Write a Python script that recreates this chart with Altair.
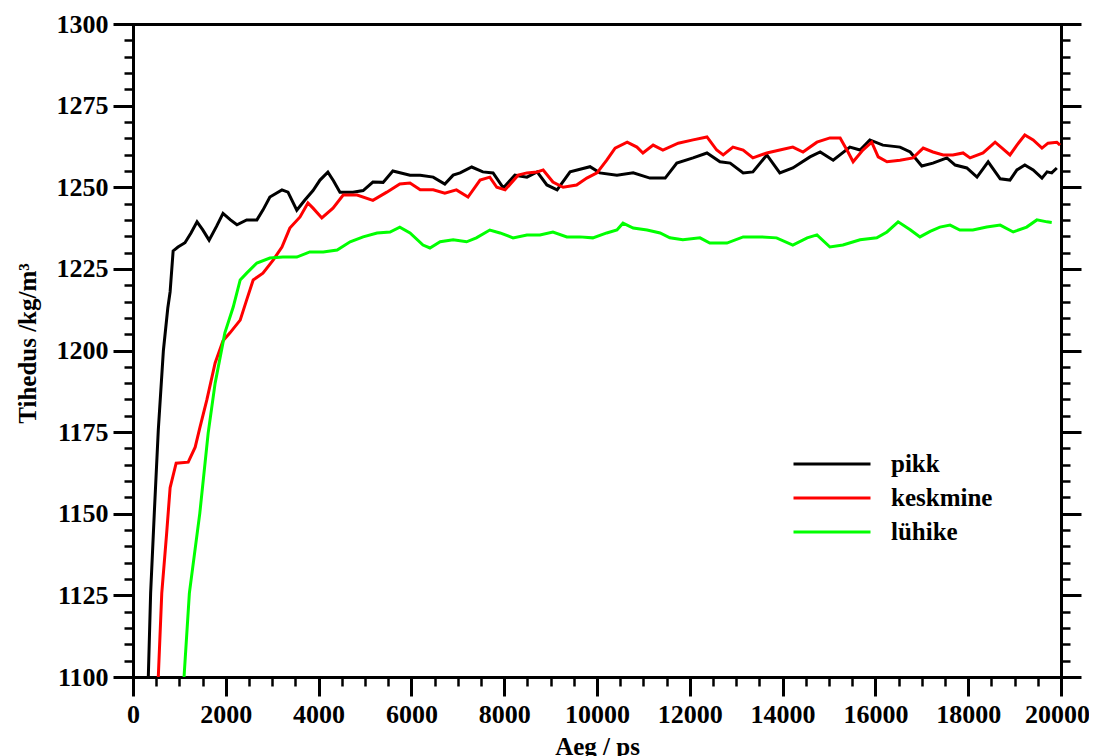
import altair as alt
import pandas as pd

# ---- data ----
pikk_x = [330, 380, 460, 545, 655, 750, 800, 865, 970, 1120, 1250, 1380, 1500, 1640, 1800, 1940, 2100, 2240, 2450, 2670,
          2800, 2950, 3210, 3340, 3530, 3700, 3880, 4030, 4200, 4320, 4460, 4740, 4960, 5170, 5390, 5600, 5970, 6190, 6470,
          6720, 6900, 7050, 7300, 7540, 7760, 7980, 8230, 8490, 8710, 8920, 9140, 9420, 9850, 10060, 10430, 10780, 11140,
          11470, 11720, 12070, 12370, 12650, 12870, 13150, 13360, 13660, 13940, 14220, 14590, 14810, 15090, 15450, 15670,
          15880, 16160, 16530, 16750, 17000, 17240, 17540, 17720, 17970, 18190, 18430, 18690, 18900, 19050, 19220, 19400,
          19590, 19700, 19800, 19910]
pikk_y = [1100, 1125.7, 1150.5, 1175.6, 1200, 1213, 1218, 1230.5, 1231.7, 1233, 1236, 1239.4, 1237, 1233.8, 1238, 1242,
          1240, 1238.5, 1240, 1240, 1243, 1247, 1249.2, 1248.5, 1243, 1246, 1249, 1252.2, 1254.6, 1252, 1248.5, 1248.5,
          1249, 1251.6, 1251.5, 1255, 1253.7, 1253.7, 1253.1, 1251, 1253.7, 1254.4, 1256.2, 1254.7, 1254.4, 1249.8, 1253.7,
          1253.1, 1254.7, 1250.7, 1249.2, 1254.7, 1256.3, 1254.4, 1253.7, 1254.4, 1252.8, 1252.8, 1257.4, 1259, 1260.5,
          1257.8, 1257.4, 1254.4, 1254.7, 1259.9, 1254.4, 1255.9, 1259.3, 1260.8, 1258.3, 1262.3, 1261.4, 1264.5, 1262.9,
          1262.3, 1260.8, 1256.5, 1257.4, 1259, 1256.8, 1255.9, 1253.1, 1257.8, 1252.6, 1252.2, 1255.3, 1256.8, 1255.3,
          1252.8, 1254.7, 1254.4, 1255.9]

keskmine_x = [545, 620, 725, 800, 930, 1190, 1340, 1440, 1590, 1770, 1940, 2090, 2310, 2450, 2590, 2800, 3020, 3210, 3380,
              3600, 3770, 3880, 4070, 4310, 4530, 4830, 5170, 5470, 5750, 5970, 6190, 6470, 6720, 6970, 7220, 7480, 7690,
              7840, 8020, 8300, 8490, 8710, 8840, 9050, 9270, 9560, 9780, 10000, 10210, 10390, 10650, 10860, 10990, 11210,
              11420, 11750, 12070, 12370, 12580, 12720, 12930, 13150, 13360, 13660, 13940, 14220, 14440, 14740, 15020,
              15240, 15410, 15520, 15730, 15920, 16060, 16250, 16530, 16810, 17030, 17240, 17460, 17670, 17890, 18040,
              18320, 18580, 18730, 18900, 19050, 19220, 19400, 19590, 19720, 19910, 19980]
keskmine_y = [1100, 1125.7, 1144, 1158, 1165.5, 1165.8, 1170.4, 1176.3, 1184.8, 1196.2, 1203, 1205.4, 1209.3, 1215.5,
              1221.6, 1223.7, 1227.7, 1231.7, 1237.5, 1240.9, 1245.2, 1243.6, 1240.6, 1243.6, 1247.6, 1247.6, 1246, 1248.5,
              1251, 1251.3, 1249.2, 1249.2, 1248.2, 1249.2, 1247, 1252.2, 1253.1, 1250, 1249.2, 1253.7, 1254.4, 1254.7,
              1255.3, 1251.6, 1250, 1250.7, 1252.8, 1254.4, 1258.3, 1262, 1263.8, 1262.3, 1260.5, 1262.9, 1261.4, 1263.5,
              1264.5, 1265.4, 1261.4, 1259.9, 1262.3, 1261.4, 1259, 1260.5, 1261.4, 1262.3, 1260.8, 1263.8, 1265.1, 1265.1,
              1260.8, 1257.8, 1261.4, 1263.8, 1259.3, 1257.8, 1258.3, 1259, 1262, 1260.8, 1259.9, 1259.9, 1260.5, 1259,
              1260.5, 1263.8, 1262, 1259.9, 1262.9, 1266, 1264.5, 1262, 1263.5, 1263.8, 1262.9]

luhike_x = [1100, 1215, 1440, 1620, 1770, 1980, 2160, 2310, 2450, 2670, 2950, 3230, 3530, 3810, 4100, 4400, 4680, 4960,
            5260, 5540, 5750, 5970, 6250, 6400, 6620, 6900, 7190, 7400, 7690, 7910, 8190, 8490, 8770, 9050, 9350, 9630,
            9910, 10210, 10430, 10560, 10780, 11080, 11360, 11570, 11850, 12220, 12430, 12800, 13150, 13510, 13870,
            14220, 14530, 14740, 15020, 15300, 15670, 16030, 16250, 16490, 16750, 16960, 17180, 17390, 17610, 17820,
            18100, 18400, 18690, 18970, 19260, 19480, 19700, 19800]
luhike_y = [1100, 1125.7, 1150.2, 1174.7, 1190, 1205.4, 1213.3, 1221.6, 1223.7, 1226.8, 1228.3, 1228.6, 1228.6, 1230.2,
            1230.2, 1230.8, 1233.3, 1234.8, 1236, 1236.3, 1237.8, 1236, 1232.3, 1231.4, 1233.3, 1233.9, 1233.3, 1234.5,
            1236.9, 1236, 1234.5, 1235.4, 1235.4, 1236.3, 1234.8, 1234.8, 1234.5, 1236, 1236.9, 1239, 1237.5, 1236.9,
            1236, 1234.5, 1233.9, 1234.5, 1232.9, 1232.9, 1234.8, 1234.8, 1234.5, 1232.3, 1234.5, 1235.4, 1231.7, 1232.3,
            1233.9, 1234.5, 1236.3, 1239.4, 1237, 1234.8, 1236.5, 1237.8, 1238.4, 1236.9, 1236.9, 1237.8, 1238.4, 1236.3,
            1237.8, 1240, 1239.4, 1239.2]

series_names = ["pikk", "keskmine", "lühike"]
series_colors = ["#000000", "#ff0000", "#00ff00"]

x_domain = [0, 20000]
y_domain = [1100, 1300]
x_major = list(range(0, 20001, 2000))
x_minor = list(range(0, 20001, 500))
y_major = list(range(1100, 1301, 25))
y_minor = list(range(1100, 1301, 5))

rows = []
for name, xs_, ys_ in [("pikk", pikk_x, pikk_y), ("keskmine", keskmine_x, keskmine_y), ("lühike", luhike_x, luhike_y)]:
    for i, (a, b) in enumerate(zip(xs_, ys_)):
        rows.append({"aeg": a, "tihedus": b, "seeria": name, "i": i})
df = pd.DataFrame(rows)
frame = pd.DataFrame({"aeg": x_domain, "tihedus": y_domain})

FONT = "Liberation Serif"
xs = alt.Scale(domain=x_domain, nice=False, zero=False)
ys = alt.Scale(domain=y_domain, nice=False, zero=False)

common_axis = dict(domainColor="black", tickColor="black", grid=False, labelColor="black",
                   labelFont=FONT, labelFontWeight="bold", labelFontSize=26, titleFont=FONT,
                   titleFontWeight="bold", titleColor="black", labelFlush=False,
                   labelOverlap=False)

lines = alt.Chart(df).mark_line(strokeWidth=3, strokeJoin="miter").encode(
    x=alt.X("aeg:Q", scale=xs, axis=alt.Axis(orient="bottom", values=x_major, format="d", tickSize=19,
                                              tickWidth=3, domainWidth=3, domainCap="square", labelPadding=5,
                                              labelOffset={"condition": {"test": "datum.value == 20000", "value": -4},
                                                           "value": 0},
                                              title="Aeg / ps", titleFontSize=25, titleBaseline="top", titleY=57,
                                              **common_axis)),
    y=alt.Y("tihedus:Q", scale=ys, axis=alt.Axis(orient="left", values=y_major, format="d", tickSize=20,
                                                  tickWidth=3, domainWidth=3, domainCap="square", labelPadding=5,
                                                  title="Tihedus /kg/m³", titleFontSize=25, titleX=-93, titleY=319,
                                                  titleBaseline="bottom", **common_axis)),
    color=alt.Color("seeria:N", scale=alt.Scale(domain=series_names, range=series_colors),
                    legend=alt.Legend(orient="none", legendX=678, legendY=419, title=None,
                                      symbolType="M-2,0L2,0", symbolSize=1482, symbolStrokeWidth=3,
                                      labelFont=FONT, labelFontWeight="bold",
                                      labelFontSize=25, labelColor="black", labelOffset=38, rowPadding=0,
                                      padding=0)),
    order="i:Q",
)

minor_lb = alt.Chart(frame).mark_point(opacity=0).encode(
    x=alt.X("aeg:Q", scale=xs, axis=alt.Axis(orient="bottom", values=x_minor, tickSize=9, tickWidth=2.5,
                                              labels=False, domain=False, title=None, grid=False, tickColor="black")),
    y=alt.Y("tihedus:Q", scale=ys, axis=alt.Axis(orient="left", values=y_minor, tickSize=9, tickWidth=2.5,
                                                  labels=False, domain=False, title=None, grid=False, tickColor="black")),
)

top_right = alt.Chart(frame).mark_point(opacity=0).encode(
    x=alt.X("aeg:Q", scale=xs, axis=alt.Axis(orient="top", ticks=False, labels=False, domainWidth=3,
                                              domainColor="black", domainCap="square", title=None, grid=False)),
    y=alt.Y("tihedus:Q", scale=ys, axis=alt.Axis(orient="right", values=y_major, tickSize=20, tickWidth=3,
                                                  labels=False, domainWidth=3, domainColor="black",
                                                  domainCap="square", title=None, grid=False, tickColor="black")),
)

right_minor = alt.Chart(frame).mark_point(opacity=0).encode(
    x=alt.X("aeg:Q", scale=xs, axis=None),
    y=alt.Y("tihedus:Q", scale=ys, axis=alt.Axis(orient="right", values=y_minor, tickSize=9, tickWidth=2.5,
                                                  labels=False, domain=False, title=None, grid=False, tickColor="black")),
)

chart = alt.layer(minor_lb, top_right, right_minor, lines).resolve_axis(
    x="independent", y="independent"
).properties(
    width=928, height=653,
    autosize=alt.AutoSizeParams(type="none"),
    padding={"left": 125, "top": 16, "right": 28, "bottom": 79},
    background="white",
).configure_view(stroke="transparent")

chart.save("out.html", embed_options={"renderer": "svg", "actions": False})
